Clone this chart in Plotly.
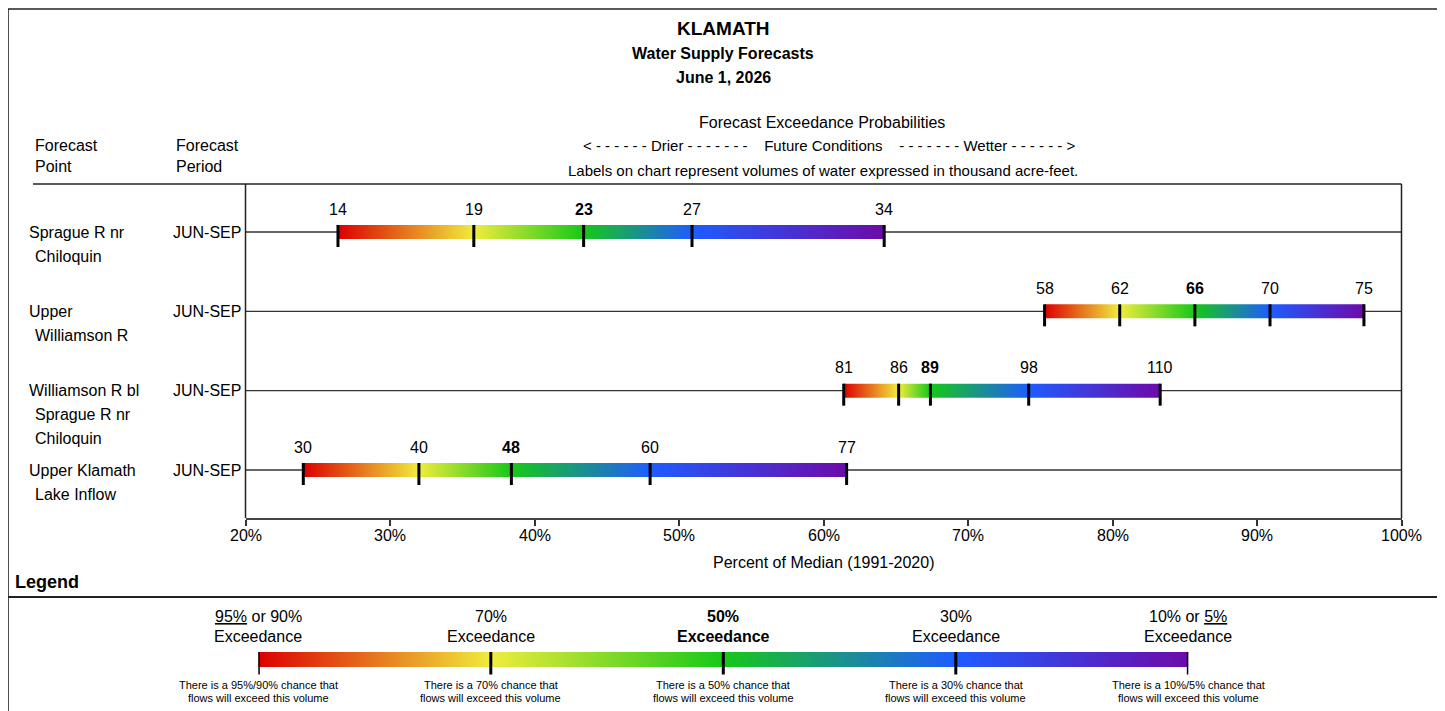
import plotly.graph_objects as go

W, H = 1445, 711

# forecast points (name split into display lines), period and exceedance volumes (KAF)
point_lines = [
    ["Sprague R nr", "Chiloquin"],
    ["Upper", "Williamson R"],
    ["Williamson R bl", "Sprague R nr", "Chiloquin"],
    ["Upper Klamath", "Lake Inflow"],
]
periods = ["JUN-SEP", "JUN-SEP", "JUN-SEP", "JUN-SEP"]
volumes = [
    [14, 19, 23, 27, 34],
    [58, 62, 66, 70, 75],
    [81, 86, 89, 98, 110],
    [30, 40, 48, 60, 77],
]
# percent of median (1991-2020) at the 95/70/50/30/5 exceedance levels
pct_median = [
    [26.4, 35.8, 43.4, 50.9, 64.2],
    [75.3, 80.5, 85.7, 90.9, 97.4],
    [61.4, 65.2, 67.4, 74.2, 83.3],
    [24.0, 32.0, 38.4, 48.0, 61.6],
]
x_ticks = [20, 30, 40, 50, 60, 70, 80, 90, 100]

exceed_top = ["<u>95%</u> or 90%", "70%", "<b>50%</b>", "30%", "10% or <u>5%</u>"]
exceed_bottom = ["Exceedance", "Exceedance", "<b>Exceedance</b>", "Exceedance", "Exceedance"]
exceed_notes = [
    "There is a 95%/90% chance that",
    "There is a 70% chance that",
    "There is a 50% chance that",
    "There is a 30% chance that",
    "There is a 10%/5% chance that",
]
exceed_notes2 = ["flows will exceed this volume"] * 5
exceed_colors = ["#dc0000", "#f0ec3c", "#16c818", "#1e5cff", "#6e0aaa"]

FONT = "Arial, Liberation Sans, sans-serif"
ROW_PX = 79.33  # pixels between forecast rows
OFF = 8         # page body margin


def px(x):
    return (x - OFF) / W


def py(y):
    return 1 - (y - OFF) / H


def note(txt, x, y, size=16, xanchor="center", xref="paper", yref="paper", **kw):
    fig.add_annotation(xref=xref, yref=yref, x=x, y=y, text=txt, showarrow=False,
                       xanchor=xanchor, yanchor="middle",
                       font=dict(size=size, color="black", family=FONT), **kw)


fig = go.Figure()

# forecast rows
for i, pts in enumerate(pct_median):
    p0, p4 = pts[0], pts[-1]
    hb = 7 / ROW_PX
    stops = [(p - p0) / (p4 - p0) for p in pts]
    fig.add_trace(go.Scatter(
        x=[p0, p4, p4, p0, p0], y=[i - hb, i - hb, i + hb, i + hb, i - hb],
        mode="lines", line=dict(width=0), fill="toself",
        fillgradient=dict(type="horizontal", start=p0, stop=p4,
                          colorscale=[[s, c] for s, c in zip(stops, exceed_colors)]),
        hoverinfo="skip", showlegend=False,
    ))
    tx, ty = [], []
    for p in pts:
        tx += [p, p, None]
        ty += [i - hb, i + 15 / ROW_PX, None]
    fig.add_trace(go.Scatter(x=tx, y=ty, mode="lines", line=dict(color="black", width=3),
                             hoverinfo="skip", showlegend=False))
    for k, (p, v) in enumerate(zip(pts, volumes[i])):
        note(f"<b>{v}</b>" if k == 2 else str(v), p, i, xref="x", yref="y", yshift=23)
    fig.add_shape(type="line", xref="x domain", yref="y", x0=0, x1=1, y0=i, y1=i,
                  line=dict(color="#333", width=1.3), layer="below")
    for j, ln in enumerate(point_lines[i]):
        note(ln, px(26.5 if j == 0 else 33), i, xanchor="left", yref="y", yshift=-24 * j)
    note(periods[i], px(171), i, xanchor="left", yref="y")

# x axis tick labels and title
for v in x_ticks:
    note(f"{v}%", v, py(535.5), xref="x")
note("Percent of Median (1991-2020)", px(823.5), py(562))

# legend gradient
lx = list(range(len(exceed_colors)))
fig.add_trace(go.Scatter(
    x=[lx[0], lx[-1], lx[-1], lx[0], lx[0]], y=[55, 55, 70, 70, 55],
    xaxis="x2", yaxis="y2", mode="lines", line=dict(width=0), fill="toself",
    fillgradient=dict(type="horizontal", start=lx[0], stop=lx[-1],
                      colorscale=[[k / lx[-1], c] for k, c in zip(lx, exceed_colors)]),
    hoverinfo="skip", showlegend=False,
))
lt_x, lt_y = [], []
for k in lx:
    lt_x += [k, k, None]
    lt_y += [55, 77.5, None]
fig.add_trace(go.Scatter(x=lt_x, y=lt_y, xaxis="x2", yaxis="y2", mode="lines",
                         line=dict(color="black", width=3), hoverinfo="skip", showlegend=False))
for k in lx:
    note(exceed_top[k], k, py(616), xref="x2")
    note(exceed_bottom[k], k, py(636.5), xref="x2")
    note(exceed_notes[k], k, py(685), size=11, xref="x2")
    note(exceed_notes2[k], k, py(698), size=11, xref="x2")

# titles and headers
sp = "\u00a0"
dashes = ("<" + " -" * 6 + " Drier " + "- " * 7 + sp * 3 + "Future Conditions"
          + sp * 3 + " -" * 7 + " Wetter " + "- " * 6 + ">")
note("<b>KLAMATH</b>", px(723), py(29), size=19)
note("<b>Water Supply Forecasts</b>", px(723), py(53.5), size=16)
note("<b>June 1, 2026</b>", px(723), py(77.5), size=16)
note("Forecast Exceedance Probabilities", px(822), py(122))
note(dashes, px(828.5), py(146), size=15)
note("Labels on chart represent volumes of water expressed in thousand acre-feet.", px(822.5), py(171), size=15)
for txt, x, y in [("Forecast", 33, 146), ("Point", 33, 167), ("Forecast", 174, 146), ("Period", 174, 167)]:
    note(txt, px(x), py(y), xanchor="left")
note("<b>Legend</b>", px(13), py(582), size=18, xanchor="left")

# frame and separators
for x0, y0, x1, y1, w in [
    (8, 9, 8, 720, 1.6), (8, 9, 1439, 9, 1.6), (1439, 9, 1439, 720, 1.6),
    (8, 597, 1439, 597, 2), (33, 184, 1401.5, 184, 1.5),
    (245.5, 184, 245.5, 518, 1.5), (1401.5, 184, 1401.5, 518, 1.5),
]:
    fig.add_shape(type="line", xref="paper", yref="paper", x0=px(x0), x1=px(x1), y0=py(y0), y1=py(y1),
                  line=dict(color="#222", width=w))

fig.update_layout(
    width=W, height=H, margin=dict(l=0, r=0, t=0, b=0, pad=0),
    paper_bgcolor="white", plot_bgcolor="white",
    font=dict(family=FONT, color="black"),
    xaxis=dict(domain=[px(245.5), px(1401.5)], range=[20, 100], tickvals=x_ticks,
               showticklabels=False, ticks="outside", ticklen=6, tickwidth=1.5,
               tickcolor="#333", showline=True, linecolor="#444", linewidth=2,
               showgrid=False, zeroline=False, automargin=False, fixedrange=True),
    yaxis=dict(domain=[py(518), py(184)], range=[3 + 48 / ROW_PX, -48 / ROW_PX], visible=False,
               automargin=False, fixedrange=True),
    xaxis2=dict(domain=[px(258.3), px(1188.3)], range=[0, 4], anchor="y2", visible=False,
                automargin=False),
    yaxis2=dict(domain=[0, py(597)], range=[H + OFF - 597, 0], anchor="x2", visible=False,
                automargin=False),
)

fig.write_html("out.html")
